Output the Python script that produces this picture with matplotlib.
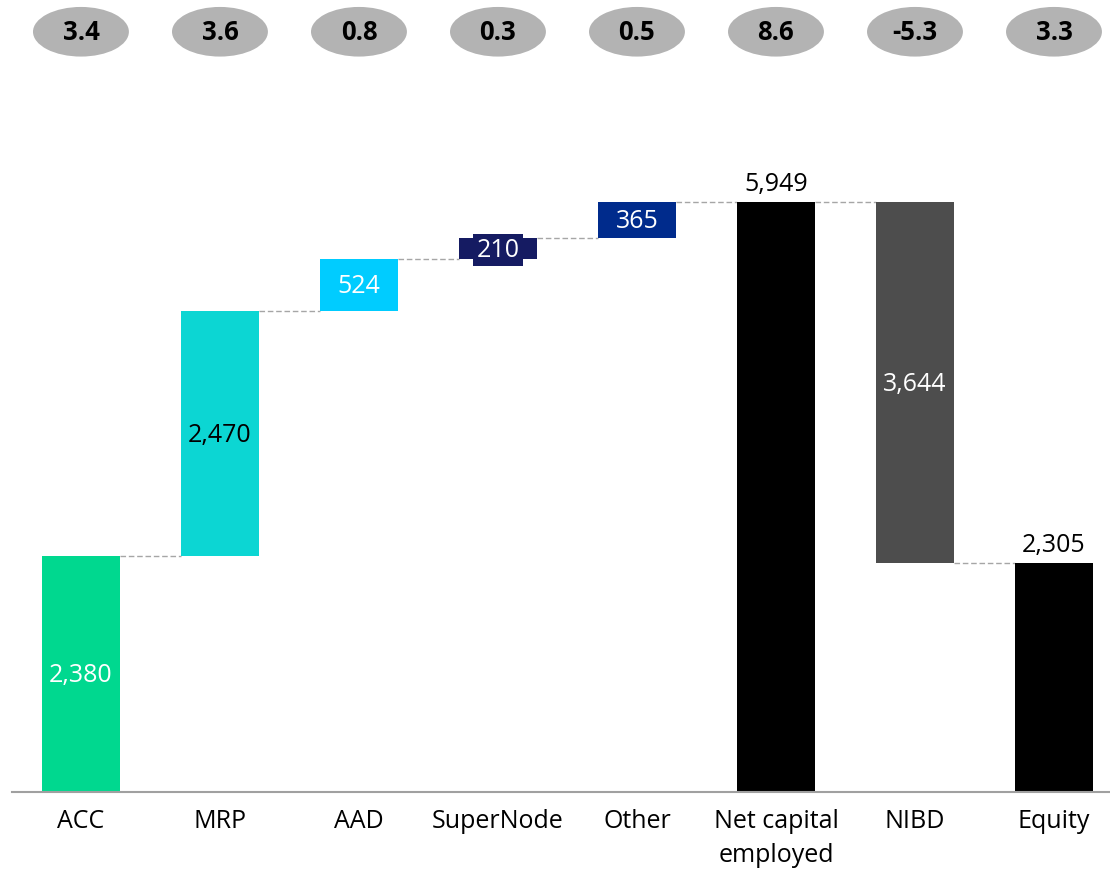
import matplotlib.pyplot as plt
from matplotlib.patches import Ellipse

plt.rcParams['font.family'] = ['Open Sans', 'DejaVu Sans']

cats = ["ACC", "MRP", "AAD", "SuperNode", "Other", "Net capital\nemployed", "NIBD", "Equity"]
vals = [2380, 2470, 524, 210, 365, 5949, -3644, 2305]
kinds = ["step", "step", "step", "step", "step", "total", "step", "total"]
colors = ["#00D88F", "#0CD6D3", "#00CCFF", "#151B62", "#002B8C", "#000000", "#4D4D4D", "#000000"]
label_colors = ["white", "black", "white", "white", "white", "black", "white", "black"]
label_above = [False, False, False, False, False, True, False, True]
badges = ["3.4", "3.6", "0.8", "0.3", "0.5", "8.6", "-5.3", "3.3"]

W, H = 1110, 872
fig = plt.figure(figsize=(W / 100, H / 100), dpi=100)
ax = fig.add_axes([12 / W, 80 / H, 1098 / W, 792 / H])
ymax = 7980
ax.set_xlim(-0.496, 7.403)
ax.set_ylim(0, ymax)

bw = 0.56
fs = 18
bottoms, tops = [], []
run = 0
for v, k in zip(vals, kinds):
    if k == "total":
        b, t = 0, v
        run = v
    else:
        b, t = (run, run + v) if v >= 0 else (run + v, run)
        run = run + v
    bottoms.append(b)
    tops.append(t)

for i in range(len(vals)):
    ax.bar(i, tops[i] - bottoms[i], bottom=bottoms[i], width=bw, color=colors[i], zorder=2)
    txt = f"{abs(vals[i]):,}"
    if label_above[i]:
        ax.text(i, tops[i] + 50, txt, ha="center", va="bottom", fontsize=fs, color=label_colors[i])
    else:
        mid = (tops[i] + bottoms[i]) / 2 - 20
        bbox = None
        if tops[i] - bottoms[i] < 300:
            bbox = dict(boxstyle="square,pad=0.15", fc=colors[i], ec="none")
        ax.text(i, mid, txt, ha="center", va="center", fontsize=fs,
                color=label_colors[i], bbox=bbox, zorder=3)

# connectors
levels = []
run = 0
for v, k in zip(vals, kinds):
    run = v if k == "total" else run + v
    levels.append(run)
for i in range(len(vals) - 1):
    ax.plot([i + bw / 2, i + 1 - bw / 2], [levels[i], levels[i]], color="#A6A6A6",
            lw=1, ls=(0, (4, 2)), zorder=1)

# badges
for i, b in enumerate(badges):
    ax.add_patch(Ellipse((i, 7660), 0.69, 500, fc="#B3B3B3", ec="none", clip_on=False))
    ax.text(i, 7650, b, ha="center", va="center", fontsize=18.5, fontweight="bold", color="black")

for s in ["top", "right", "left"]:
    ax.spines[s].set_visible(False)
ax.spines["bottom"].set_color("#A0A0A0")
ax.spines["bottom"].set_linewidth(1.5)
ax.set_yticks([])
ax.set_xticks(range(len(cats)))
ax.set_xticklabels(cats, fontsize=fs, linespacing=1.5, va="top")
ax.tick_params(axis="x", length=0, pad=12)

fig.savefig("out.png", dpi=100)
